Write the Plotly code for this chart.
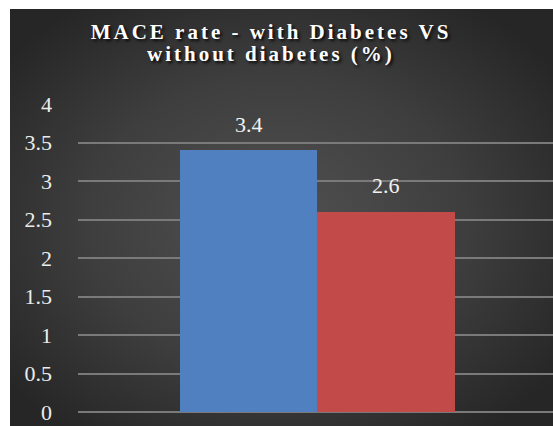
import base64
import plotly.graph_objects as go

# Chart data
groups = ["with Diabetes", "without diabetes"]
mace_rate = [3.4, 2.6]
bar_colors = ["#5080bf", "#c24b49"]
y_ticks = [0, 0.5, 1, 1.5, 2, 2.5, 3, 3.5, 4]
y_tick_labels = ["0", "0.5", "1", "1.5", "2", "2.5", "3", "3.5", "4"]
title_lines = ["MACE rate - with Diabetes VS", "without diabetes (%)"]

W, H = 553, 426
ML, MR, MT, MB = 78, 0, 104, 14
PW, PH = W - ML - MR, H - MT - MB
TITLE_CX = 271  # horizontal centre of the two title lines (px)
FRAME_L, FRAME_T = 10, 9  # white frame on the left and top (px)


def px_x(p):
    return (p - ML) / PW


def px_y(p):
    return 1 + (MT - p) / PH


# Dark radial-gradient backdrop for the chart panel
bg_svg = (
    f'<svg xmlns="http://www.w3.org/2000/svg" width="{W}" height="{H}" '
    f'viewBox="0 0 {W} {H}" preserveAspectRatio="none">'
    '<defs><radialGradient id="g" cx="50%" cy="52%" r="62%">'
    '<stop offset="0" stop-color="#515151"/>'
    '<stop offset="0.55" stop-color="#3e3e3e"/>'
    '<stop offset="1" stop-color="#262626"/>'
    '</radialGradient></defs>'
    f'<rect width="{W}" height="{H}" fill="url(#g)"/></svg>'
)
bg_uri = "data:image/svg+xml;base64," + base64.b64encode(bg_svg.encode()).decode()

title_font = dict(
    family="Liberation Serif",
    size=21,
    color="white",
    weight="bold",
    shadow="2px 2px 3px rgba(0,0,0,0.85)",
)


def spaced(t):
    return f'<span style="letter-spacing:3px">{t}</span>'


fig = go.Figure(
    go.Bar(
        x=groups,
        y=mace_rate,
        marker=dict(color=bar_colors, line=dict(width=0)),
        width=1.0,
        hoverinfo="x+y",
    )
)

# value labels floating above each bar
for g, v in zip(groups, mace_rate):
    fig.add_annotation(
        x=g, y=v, text=f"{v:g}", showarrow=False,
        yanchor="middle", yshift=26,
        font=dict(family="Liberation Serif", size=22, color="#f2f2f2"),
    )

# second title line, set with a tighter line spacing than a <br> gives
fig.add_annotation(
    xref="paper", yref="paper",
    x=px_x(TITLE_CX), y=px_y(53.5),
    xanchor="center", yanchor="middle",
    text=spaced(title_lines[1]), showarrow=False,
    font=title_font,
)

# white frame strips along the left and top edges
frame = dict(type="rect", xref="paper", yref="paper", layer="below",
             fillcolor="white", line=dict(width=0))
fig.add_shape(**frame, x0=px_x(-2), x1=px_x(FRAME_L), y0=px_y(H + 2), y1=px_y(-2))
fig.add_shape(**frame, x0=px_x(-2), x1=px_x(W + 2), y0=px_y(FRAME_T), y1=px_y(-2))

fig.update_layout(
    width=W,
    height=H,
    paper_bgcolor="white",
    plot_bgcolor="rgba(0,0,0,0)",
    margin=dict(l=ML, r=MR, t=MT, b=MB),
    showlegend=False,
    bargap=0,
    title=dict(
        text=spaced(title_lines[0]),
        x=TITLE_CX / W,
        xanchor="center",
        y=1 - 31.5 / H,
        yanchor="middle",
        font=title_font,
    ),
    xaxis=dict(
        type="category",
        range=[-1.24, 2.2145],
        showticklabels=False,
        showgrid=False,
        zeroline=False,
        showline=False,
        ticks="",
    ),
    yaxis=dict(
        range=[0, 4],
        tickvals=y_ticks,
        ticktext=y_tick_labels,
        tickfont=dict(family="Liberation Serif", size=22, color="#ececec"),
        showgrid=True,
        gridcolor="#7a7a7a",
        gridwidth=1.5,
        zeroline=True,
        zerolinecolor="#7a7a7a",
        zerolinewidth=1.5,
        showline=False,
        ticks="",
        ticklabelstandoff=25,
    ),
    images=[
        dict(
            source=bg_uri,
            xref="paper",
            yref="paper",
            x=px_x(0),
            y=px_y(0),
            sizex=W / PW,
            sizey=H / PH,
            xanchor="left",
            yanchor="top",
            sizing="stretch",
            layer="below",
        )
    ],
)

fig.write_html("out.html")
